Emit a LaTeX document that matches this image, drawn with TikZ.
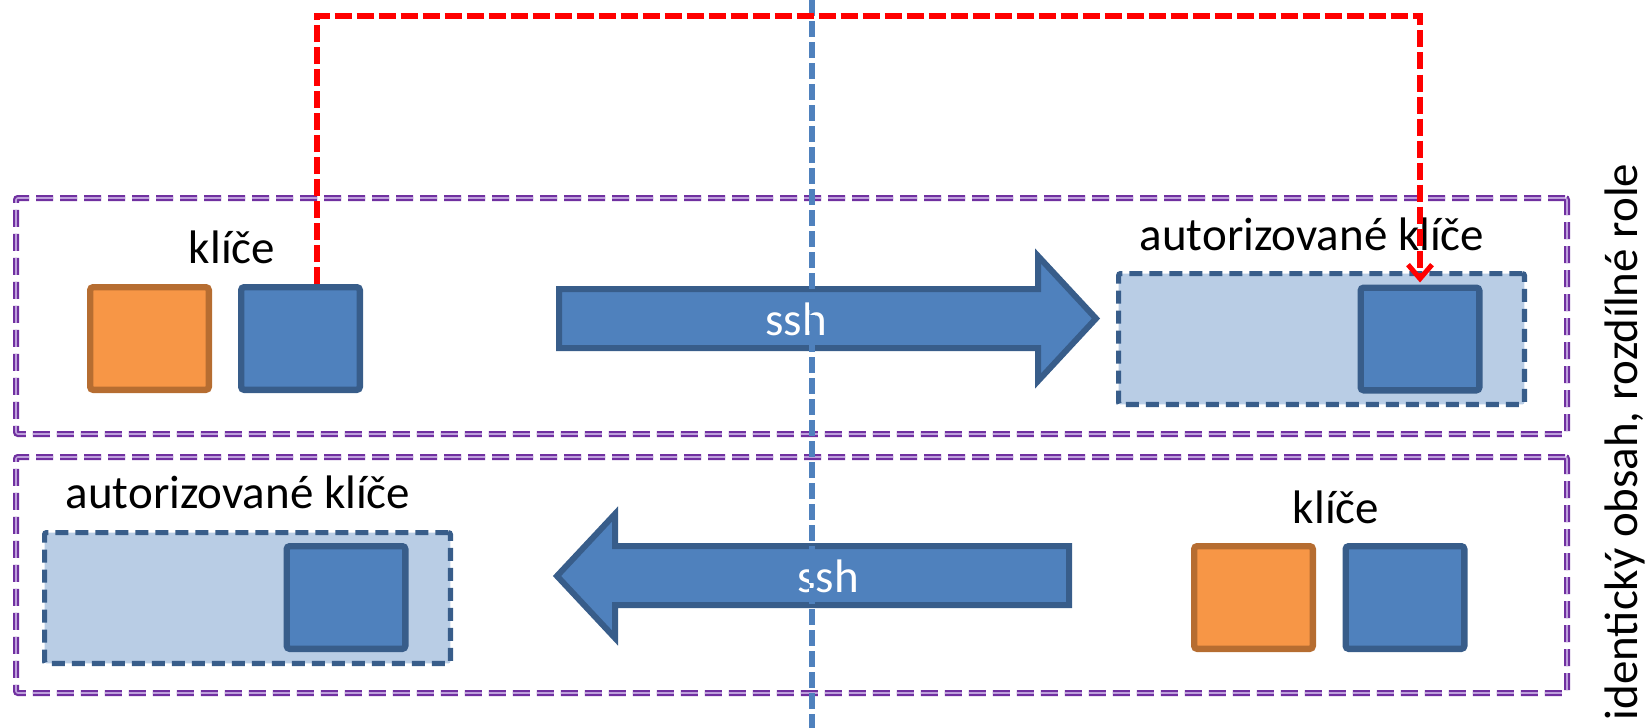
\documentclass[tikz,border=0pt]{standalone}
\usepackage{fontspec}
\setmainfont{Carlito}
\usepackage{tikz}
\usetikzlibrary{arrows.meta}

\definecolor{keyblue}{RGB}{79,129,189}
\definecolor{keyblueline}{RGB}{56,93,138}
\definecolor{keyorange}{RGB}{247,150,70}
\definecolor{keyorangeline}{RGB}{182,109,49}
\definecolor{authfill}{RGB}{185,205,229}
\definecolor{framepurple}{RGB}{112,48,160}
\definecolor{framelight}{RGB}{190,160,220}

\begin{document}
\begin{tikzpicture}[x=0.5pt, y=-0.5pt,
    every node/.style={inner sep=0pt, font=\fontsize{23.5}{28}\selectfont},
    rowframe/.style={draw=framepurple, double=framelight, line width=1.1pt, double distance=0.8pt,
      dash pattern=on 8.5pt off 3.5pt, rounded corners=1pt, minimum width=775.5pt, minimum height=118pt},
    authbox/.style={draw=keyblueline, fill=authfill, line width=2.6pt, dash pattern=on 6.5pt off 3.5pt,
      rounded corners=1pt, minimum width=202.9pt, minimum height=65.4pt},
    secbox/.style={draw=keyorangeline, fill=keyorange, line width=3.2pt, rounded corners=1.5pt,
      minimum width=59.3pt, minimum height=51.3pt},
    pubbox/.style={draw=keyblueline, fill=keyblue, line width=3.2pt, rounded corners=1.5pt,
      minimum width=59.3pt, minimum height=51.3pt},
    ssharrow/.style={draw=keyblueline, fill=keyblue, line width=3pt, line join=miter}]
  \useasboundingbox (0, 0) rectangle (1650, 728);

  % two rows
  \node[rowframe] (row1) at (791.5, 316) {};
  \node[rowframe] (row2) at (791.5, 575) {};

  % top row
  \node[secbox] (sec1) at (149.5, 338.5) {};
  \node[pubbox] (pub1) at (300.5, 338.5) {};
  \node[anchor=base] (lab1) at (232, 263) {klíče};
  \node[authbox] (auth1) at (1321.5, 339) {};
  \node[pubbox] (apub1) at (1420, 339) {};
  \node[anchor=base] (alab1) at (1312, 250) {autorizované klíče};
  \draw[ssharrow] (559, 289) -- (1038, 289) -- (1038, 256) -- (1096, 318.5)
    -- (1038, 381) -- (1038, 348) -- (559, 348) -- cycle;
  \node[anchor=base, text=white] (ssh1) at (796, 335) {ssh};

  % bottom row
  \node[authbox] (auth2) at (247.5, 598) {};
  \node[pubbox] (apub2) at (346, 597.5) {};
  \node[anchor=base] (alab2) at (238, 508) {autorizované klíče};
  \node[secbox] (sec2) at (1253.5, 597.5) {};
  \node[pubbox] (pub2) at (1405, 597.5) {};
  \node[anchor=base] (lab2) at (1336, 523) {klíče};
  \draw[ssharrow] (1069, 546) -- (615, 546) -- (615, 514) -- (557, 576)
    -- (615, 638) -- (615, 605) -- (1069, 605) -- cycle;
  \node[anchor=base, text=white] (ssh2) at (828, 592) {ssh};

  \node[rotate=90, anchor=base] (side) at (1637, 442) {identický obsah, rozdílné role};

  % divider and copy path
  \coordinate (mtop) at (812, 0);
  \coordinate (mbot) at (812, 728);
  \draw[keyblue, line width=2.8pt, dash pattern=on 8pt off 2.5pt] (mtop) -- (mbot);
  \coordinate (bend) at (900, 16);
  \draw[red, line width=3pt, dash pattern=on 8.5pt off 2.5pt, shorten >=1pt,
    -{Straight Barb[length=7pt, width=12pt, line width=2.5pt]}]
    ([xshift=8pt]pub1.north) |- (bend) -| (apub1.north);
\end{tikzpicture}
\end{document}
